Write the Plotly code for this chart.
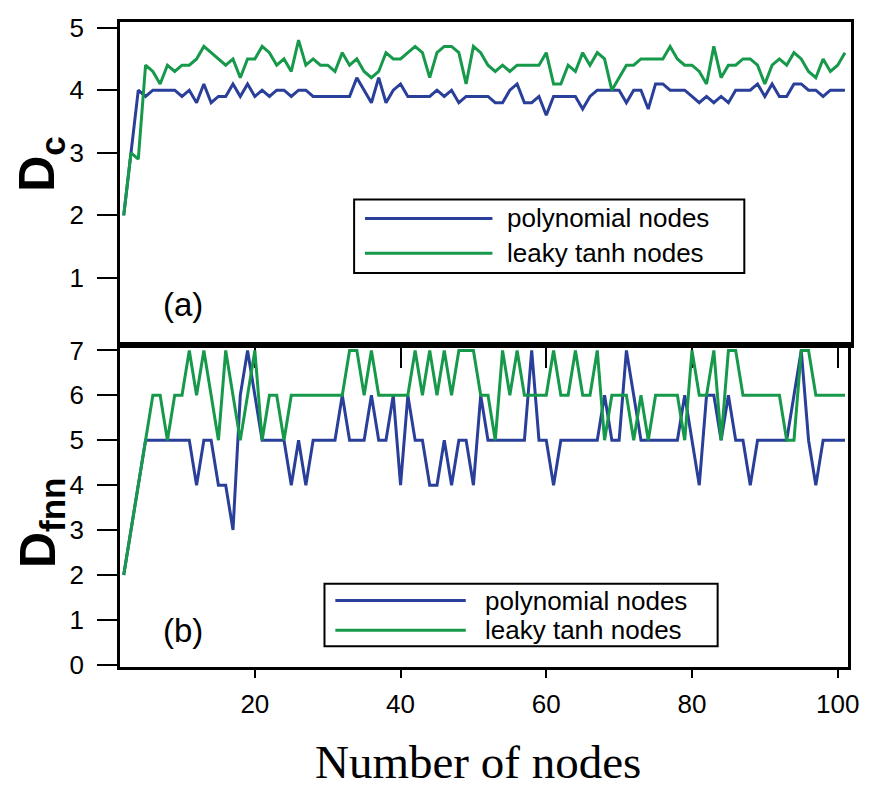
import plotly.graph_objects as go

# Number of nodes in the reservoir
nodes = list(range(2, 102))

# Correlation dimension D_c
dc_poly = [2.0, 3.0, 4.0, 3.9, 4.0, 4.0, 4.0, 4.0, 3.9, 4.0,
           3.8, 4.1, 3.8, 3.9, 3.9, 4.1, 3.9, 4.1, 3.9, 4.0,
           3.9, 4.0, 4.0, 3.9, 4.0, 4.0, 3.9, 3.9, 3.9, 3.9,
           3.9, 3.9, 4.2, 4.0, 3.8, 4.2, 3.8, 4.0, 4.1, 3.9,
           3.9, 3.9, 3.9, 4.0, 3.9, 4.0, 3.8, 3.9, 3.9, 3.9,
           3.9, 3.8, 3.8, 4.0, 4.1, 3.8, 3.8, 3.9, 3.6, 3.9,
           3.9, 3.9, 3.9, 3.7, 3.9, 4.0, 4.0, 4.0, 4.0, 3.8,
           4.0, 4.0, 3.7, 4.1, 4.1, 4.0, 4.0, 4.0, 3.9, 3.8,
           3.9, 3.8, 3.9, 3.8, 4.0, 4.0, 4.0, 4.1, 3.9, 4.1,
           3.9, 3.9, 4.1, 4.1, 4.0, 4.0, 3.9, 4.0, 4.0, 4.0]
dc_tanh = [2.0, 3.0, 2.9, 4.4, 4.3, 4.1, 4.4, 4.3, 4.4, 4.4,
           4.5, 4.7, 4.6, 4.5, 4.4, 4.5, 4.2, 4.5, 4.5, 4.7,
           4.6, 4.4, 4.5, 4.3, 4.8, 4.4, 4.5, 4.4, 4.4, 4.3,
           4.6, 4.4, 4.5, 4.3, 4.2, 4.3, 4.6, 4.5, 4.5, 4.6,
           4.7, 4.6, 4.2, 4.6, 4.7, 4.7, 4.6, 4.1, 4.7, 4.6,
           4.4, 4.3, 4.4, 4.3, 4.4, 4.4, 4.4, 4.4, 4.6, 4.1,
           4.1, 4.4, 4.3, 4.6, 4.4, 4.6, 4.5, 4.0, 4.2, 4.4,
           4.4, 4.5, 4.5, 4.5, 4.5, 4.7, 4.5, 4.4, 4.4, 4.3,
           4.1, 4.7, 4.2, 4.4, 4.4, 4.5, 4.5, 4.4, 4.1, 4.4,
           4.5, 4.4, 4.6, 4.5, 4.3, 4.2, 4.5, 4.3, 4.4, 4.6]

# False-nearest-neighbour dimension D_fnn
dfnn_poly = [2, 3, 4, 5, 5, 5, 5, 5, 5, 5,
             4, 5, 5, 4, 4, 3, 6, 7, 6, 5,
             5, 5, 5, 4, 5, 4, 5, 5, 5, 5,
             6, 5, 5, 5, 6, 5, 5, 6, 4, 6,
             5, 5, 4, 4, 5, 4, 5, 5, 4, 6,
             5, 5, 5, 5, 5, 5, 7, 5, 5, 4,
             5, 5, 5, 5, 5, 5, 6, 5, 5, 7,
             6, 5, 5, 5, 5, 5, 5, 6, 5, 4,
             6, 6, 5, 6, 5, 5, 4, 5, 5, 5,
             5, 5, 6, 7, 5, 4, 5, 5, 5, 5]
dfnn_tanh = [2, 3, 4, 5, 6, 6, 5, 6, 6, 7,
             6, 7, 6, 5, 7, 6, 5, 6, 7, 5,
             6, 6, 5, 6, 6, 6, 6, 6, 6, 6,
             6, 7, 7, 6, 7, 6, 6, 6, 6, 6,
             7, 6, 7, 6, 7, 6, 7, 7, 7, 6,
             6, 5, 7, 6, 7, 6, 6, 6, 6, 7,
             6, 6, 7, 6, 6, 7, 5, 6, 6, 6,
             5, 6, 5, 6, 6, 6, 6, 5, 7, 6,
             6, 7, 5, 7, 7, 6, 6, 6, 6, 6,
             6, 5, 5, 7, 7, 6, 6, 6, 6, 6]

series_names = ["polynomial nodes", "leaky tanh nodes"]
x_ticks = [20, 40, 60, 80, 100]
dc_ticks = [1, 2, 3, 4, 5]
dfnn_ticks = [0, 1, 2, 3, 4, 5, 6, 7]

BLUE = "#2a3f99"
GREEN = "#16994a"
SANS = "Liberation Sans, Arial, sans-serif"
W, H = 874, 788
ML, MR, MT, MB = 120, 14, 17, 121
PW, PH = W - ML - MR, H - MT - MB
SPLIT = (H - MB - 343) / PH


def px(x):
    return (x - ML) / PW


def py(y):
    return (H - MB - y) / PH


fig = go.Figure()
for vals, color, name in [(dc_poly, BLUE, series_names[0]), (dc_tanh, GREEN, series_names[1])]:
    fig.add_trace(go.Scatter(x=nodes, y=vals, mode="lines", name=name,
                             line=dict(color=color, width=3), xaxis="x", yaxis="y",
                             showlegend=False))
for vals, color, name in [(dfnn_poly, BLUE, series_names[0]), (dfnn_tanh, GREEN, series_names[1])]:
    fig.add_trace(go.Scatter(x=nodes, y=vals, mode="lines", name=name,
                             line=dict(color=color, width=3), xaxis="x2", yaxis="y2",
                             showlegend=False))

tickfont = dict(family=SANS, size=26, color="black")
common = dict(showline=True, linecolor="black", linewidth=2.5, mirror=True,
              ticks="outside", tickcolor="black", tickwidth=2, showgrid=False,
              zeroline=False, tickfont=tickfont)

fig.update_layout(
    width=W, height=H,
    margin=dict(l=ML, r=MR, t=MT, b=MB),
    plot_bgcolor="white", paper_bgcolor="white",
    xaxis=dict(domain=[0, 1], range=[1.49, 101.83], anchor="y", tickvals=x_ticks,
               showticklabels=False, ticklen=20, **common),
    yaxis=dict(domain=[SPLIT, 1], range=[-0.08, 5.09], anchor="x", tickvals=dc_ticks,
               ticklen=20, ticklabelstandoff=8, **common),
    xaxis2=dict(domain=[0, 737 / PW], range=[1.49, 101.42], anchor="y2", tickvals=x_ticks,
                ticklen=8, ticklabelstandoff=4, **common),
    yaxis2=dict(domain=[0, SPLIT], range=[-0.05, 7.11], anchor="x2", tickvals=dfnn_ticks,
                ticklen=20, ticklabelstandoff=8, **common),
)

shapes = []
annotations = []

# legend boxes with line samples and labels
legend_boxes = [
    dict(box=(357, 196, 752, 270), rows=(215, 250), line=(368, 497), text_x=510),
    dict(box=(327, 583, 725, 646), rows=(600, 630), line=(338, 470), text_x=487),
]
for lg in legend_boxes:
    x0, y0, x1, y1 = lg["box"]
    shapes.append(dict(type="rect", xref="paper", yref="paper",
                       x0=px(x0), x1=px(x1), y0=py(y1), y1=py(y0),
                       line=dict(color="black", width=2), fillcolor="white", layer="above"))
    for row_y, color, label in zip(lg["rows"], [BLUE, GREEN], series_names):
        shapes.append(dict(type="line", xref="paper", yref="paper",
                           x0=px(lg["line"][0]), x1=px(lg["line"][1]),
                           y0=py(row_y), y1=py(row_y),
                           line=dict(color=color, width=3), layer="above"))
        annotations.append(dict(xref="paper", yref="paper", x=px(lg["text_x"]), y=py(row_y),
                                xanchor="left", yanchor="middle", showarrow=False, text=label,
                                font=dict(family=SANS, size=26, color="black")))

# panel tags
for tag, ty in [("(a)", 302), ("(b)", 630)]:
    annotations.append(dict(xref="paper", yref="paper", x=px(161), y=py(ty),
                            xanchor="left", yanchor="middle", showarrow=False, text=tag,
                            font=dict(family=SANS, size=33, color="black")))

# y-axis titles
for txt, ty in [("<b>D<sub>c</sub></b>", 160), ("<b>D<sub>fnn</sub></b>", 521)]:
    annotations.append(dict(xref="paper", yref="paper", x=px(40), y=py(ty),
                            xanchor="center", yanchor="middle", showarrow=False, text=txt,
                            textangle=-90,
                            font=dict(family=SANS, size=50, color="black")))

# x-axis title
annotations.append(dict(xref="paper", yref="paper", x=px(482), y=py(791),
                        xanchor="center", yanchor="bottom", showarrow=False,
                        text="Number of nodes",
                        font=dict(family="Liberation Serif, Times New Roman, serif",
                                  size=47, color="black")))

fig.update_layout(shapes=shapes, annotations=annotations)
fig.write_html("out.html")
